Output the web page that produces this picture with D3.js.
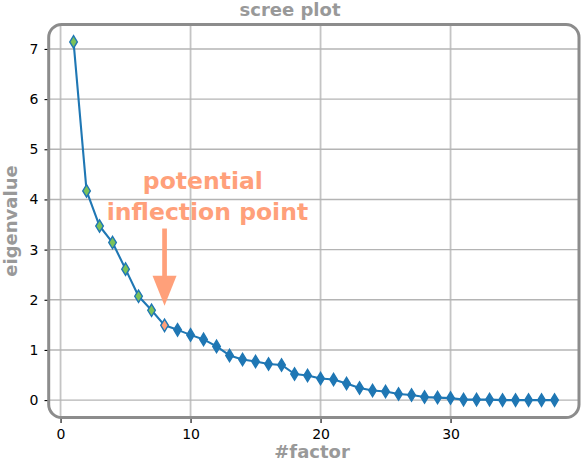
<!DOCTYPE html>
<html>
<head>
<meta charset="utf-8">
<script src="https://cdn.jsdelivr.net/npm/d3@7"></script>
<style>
  html, body { margin: 0; padding: 0; background: #fff; }
  svg { display: block; }
</style>
</head>
<body>
<svg id="chart" width="582" height="462"></svg>
<script>
// ---- data ----
const factors = d3.range(1, 39);
const eigenvalues = [7.14, 4.17, 3.47, 3.14, 2.61, 2.07, 1.79, 1.49, 1.40, 1.30,
                     1.21, 1.07, 0.89, 0.81, 0.77, 0.72, 0.70, 0.52, 0.49, 0.43,
                     0.41, 0.33, 0.24, 0.19, 0.17, 0.12, 0.10, 0.06, 0.05, 0.04,
                     0.01, 0.01, 0.01, 0.00, 0.00, 0.00, 0.00, 0.00];
const xTicks = [0, 10, 20, 30];
const yTicks = [0, 1, 2, 3, 4, 5, 6, 7];
const titleText = "scree plot";
const xLabel = "#factor";
const yLabel = "eigenvalue";
const annotationLines = ["potential", "inflection point"];
const inflectionFactor = 8;
const greenCount = 7;

// ---- styles ----
const blue = "#1f77b4", green = "#7bc25a", salmon = "#ffa07a", gray = "#999999";
const font = "'DejaVu Sans', sans-serif";

const svg = d3.select("#chart");
const L = 49.5, R = 578.6, T = 24, B = 418;

const x = d3.scaleLinear().domain([-0.85, 39.85]).range([L, R]);
const yMax = d3.max(eigenvalues), yMin = d3.min(eigenvalues);
const pad = (yMax - yMin) * 0.05;
const y = d3.scaleLinear().domain([yMin - pad, yMax + pad]).range([B, T]);

// clip for rounded frame
const defs = svg.append("defs");
defs.append("clipPath").attr("id", "frameClip")
  .append("rect").attr("x", L).attr("y", T).attr("width", R - L).attr("height", B - T)
  .attr("rx", 13).attr("ry", 13);

const plot = svg.append("g").attr("clip-path", "url(#frameClip)");

// grid
plot.selectAll("line.vgrid").data(xTicks).join("line")
  .attr("x1", d => x(d)).attr("x2", d => x(d)).attr("y1", T).attr("y2", B)
  .attr("stroke", "#c4c4c4").attr("stroke-width", 1.8);
plot.selectAll("line.hgrid").data(yTicks).join("line")
  .attr("x1", L).attr("x2", R).attr("y1", d => y(d)).attr("y2", d => y(d))
  .attr("stroke", "#b4b4b4").attr("stroke-width", 1.4);

// axes
const xAxis = svg.append("g").attr("transform", `translate(0,${B})`)
  .call(d3.axisBottom(x).tickValues(xTicks).tickSize(5).tickPadding(6));
const yAxis = svg.append("g").attr("transform", `translate(${L},0)`)
  .call(d3.axisLeft(y).tickValues(yTicks).tickSize(5).tickPadding(6));
[xAxis, yAxis].forEach(a => {
  a.select(".domain").remove();
  a.selectAll("line").attr("stroke", "#000").attr("stroke-width", 1.1);
  a.selectAll("text").attr("font-family", font).attr("font-size", 14).attr("fill", "#000");
});

// frame
svg.append("rect").attr("x", L - 0.8).attr("y", T + 0.5).attr("width", R - L + 1.2).attr("height", B - T - 1)
  .attr("rx", 13).attr("ry", 13).attr("fill", "none")
  .attr("stroke", "#8c8c8c").attr("stroke-width", 3);

// line
const pts = factors.map((f, i) => [f, eigenvalues[i]]);
svg.append("path").datum(pts)
  .attr("d", d3.line().x(d => x(d[0])).y(d => y(d[1])))
  .attr("fill", "none").attr("stroke", blue).attr("stroke-width", 2.1)
  .attr("stroke-linejoin", "round");

// markers (thin diamonds)
const mh = 6.2, mw = 3.8;
const diamond = `M0,${-mh}L${mw},0L0,${mh}L${-mw},0Z`;
svg.selectAll("path.mk").data(pts).join("path")
  .attr("d", diamond)
  .attr("transform", d => `translate(${x(d[0])},${y(d[1])})`)
  .attr("fill", (d, i) => i < greenCount ? green : (d[0] === inflectionFactor ? salmon : blue))
  .attr("stroke", blue).attr("stroke-width", 1.4).attr("stroke-linejoin", "miter");

// annotation
const ann = svg.append("text").attr("font-family", font).attr("font-weight", "bold")
  .attr("font-size", 23.5).attr("fill", salmon).attr("text-anchor", "middle");
ann.append("tspan").attr("x", x(10.95)).attr("y", 188.5).text(annotationLines[0]);
ann.append("tspan").attr("x", x(11.3)).attr("y", 219.5).text(annotationLines[1]);

// arrow
const ax = x(inflectionFactor);
const yStart = y(3.42), yTip = y(1.88), yHead = yTip - 30;
svg.append("line").attr("x1", ax).attr("x2", ax).attr("y1", yStart).attr("y2", yHead + 1)
  .attr("stroke", salmon).attr("stroke-width", 4.7);
svg.append("path")
  .attr("d", `M${ax - 12},${yHead}L${ax + 12},${yHead}L${ax},${yTip}Z`)
  .attr("fill", salmon);

// labels
svg.append("text").attr("x", 290).attr("y", 16).attr("text-anchor", "middle")
  .attr("font-family", font).attr("font-weight", "bold").attr("font-size", 18)
  .attr("fill", gray).text(titleText);
svg.append("text").attr("x", (L + R) / 2 - 2).attr("y", 457.5).attr("text-anchor", "middle")
  .attr("font-family", font).attr("font-weight", "bold").attr("font-size", 18)
  .attr("fill", gray).text(xLabel);
svg.append("text").attr("transform", `translate(17,${(T + B) / 2}) rotate(-90)`)
  .attr("text-anchor", "middle")
  .attr("font-family", font).attr("font-weight", "bold").attr("font-size", 18)
  .attr("fill", gray).text(yLabel);
</script>
</body>
</html>
